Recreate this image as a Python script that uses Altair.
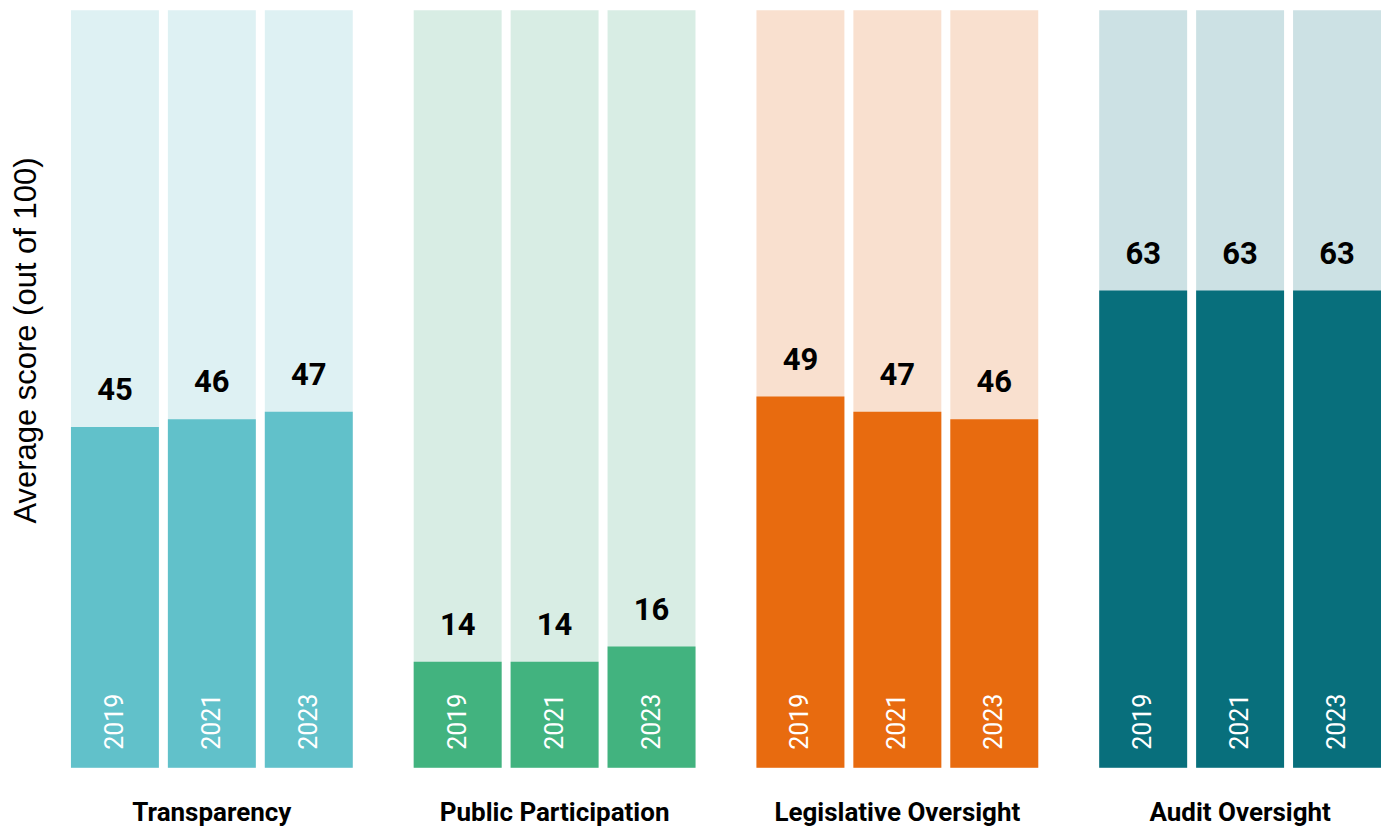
import altair as alt
import pandas as pd

categories = ["Transparency", "Public Participation", "Legislative Oversight", "Audit Oversight"]
years = ["2019", "2021", "2023"]
scores = {
    "Transparency": [45, 46, 47],
    "Public Participation": [14, 14, 16],
    "Legislative Oversight": [49, 47, 46],
    "Audit Oversight": [63, 63, 63],
}
fg_colors = ["#61C1CA", "#42B37F", "#E86B0F", "#086F7C"]
bg_colors = ["#DEF1F3", "#D8EDE4", "#F9E0CF", "#CCE1E4"]

rows = []
for c in categories:
    for y, v in zip(years, scores[c]):
        rows.append({"category": c, "year": y, "value": v})
df = pd.DataFrame(rows)

color_domain = categories + [c + " bg" for c in categories]
color_range = fg_colors + bg_colors
color_scale = alt.Scale(domain=color_domain, range=color_range)

x_enc = alt.X("year:N", scale=alt.Scale(paddingInner=9 / 97, paddingOuter=0), axis=None)
y_scale = alt.Scale(domain=[0, 100], nice=False)
y_axis = alt.Axis(title="Average score (out of 100)", labels=False, ticks=False,
                  domain=False, grid=False, titleFontSize=31,
                  titleFont="Liberation Sans", titleFontWeight="normal",
                  titleColor="black", titlePadding=28, titleY=330)

base = alt.Chart().transform_calculate(
    full="100", zero="0", bgcat="datum.category + ' bg'"
)

bg = base.mark_bar().encode(
    x=x_enc,
    y=alt.Y("full:Q", scale=y_scale, axis=y_axis),
    color=alt.Color("bgcat:N", scale=color_scale, legend=None),
)

fg = base.mark_bar().encode(
    x=x_enc,
    y=alt.Y("value:Q", scale=y_scale, axis=y_axis),
    color=alt.Color("category:N", scale=color_scale, legend=None),
)

val_text = base.mark_text(dy=-20, baseline="bottom", fontSize=31, fontWeight="bold",
                          font="Roboto", color="black").encode(
    x=x_enc,
    y=alt.Y("value:Q", scale=y_scale, axis=y_axis),
    text="value:Q",
)

year_text = base.mark_text(angle=270, align="left", baseline="middle", dx=18,
                           color="white", fontSize=25, font="Roboto", fontWeight="normal").encode(
    x=x_enc,
    y=alt.Y("zero:Q", scale=y_scale, axis=y_axis),
    text="year:N",
)

chart = alt.layer(bg, fg, val_text, year_text, data=df).properties(
    width=282, height=758
).facet(
    column=alt.Column("category:N", sort=categories,
                      header=alt.Header(labelOrient="bottom", labelFontSize=26,
                                        labelFontWeight="bold", labelFont="Roboto",
                                        labelColor="black", labelPadding=32, title=None)),
    spacing=61,
).properties(
    padding={"left": 3, "top": 2, "right": 0, "bottom": 0}
).configure_view(stroke=None)

chart.save("out.html", embed_options={"renderer": "svg", "actions": False})
